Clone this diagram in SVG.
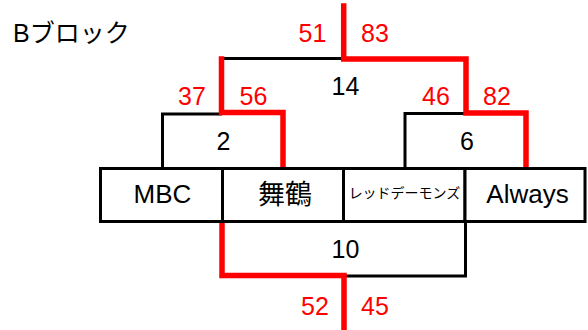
<svg xmlns="http://www.w3.org/2000/svg" width="588" height="330" viewBox="0 0 588 330">
<style>
  text { font-family: "Liberation Sans", "Noto Sans CJK JP", sans-serif; text-anchor: middle; fill: #000; }
  .title { font-size: 25px; text-anchor: start; }
  .num { font-size: 25px; }
  .score { font-size: 25px; fill: #ff0000; }
  .team { font-size: 26px; }
  .box { fill: #fff; stroke: #000; stroke-width: 3; }
  .blk { fill: none; stroke: #000; stroke-width: 3; }
  .red { fill: none; stroke: #ff0000; stroke-width: 5.5; stroke-linejoin: miter; stroke-linecap: square; }
</style>
<rect width="588" height="330" fill="#fff"/>
<text class="title" x="13" y="42">Bブロック</text>

<g id="connectors">
  <polyline class="blk" points="162.5,168 162.5,114 222,114"/>
  <polyline class="blk" points="222,58.5 343.5,58.5"/>
  <polyline class="blk" points="405,168 405,113.5 466,113.5"/>
  <polyline class="blk" points="465.5,222 465.5,276 344,276"/>
  <polyline class="red" points="283,168 283,112.5 221.5,112.5 221.5,59"/>
  <polyline class="red" points="343.7,6 343.7,59 466,59 466,113 526,113 526,168"/>
  <polyline class="red" points="222,222 222,275.5 344,275.5 344,330"/>
</g>

<g id="team-mbc"><rect class="box" x="100.5" y="168.5" width="122" height="53"/><text class="team" x="162.5" y="203">MBC</text></g>
<g id="team-maizuru"><rect class="box" x="222.5" y="168.5" width="121" height="53"/><text class="team" x="285" y="204" style="font-size:27px">舞鶴</text></g>
<g id="team-reddemons"><rect class="box" x="343.5" y="168.5" width="121.5" height="53"/><text class="team" x="404.5" y="198" style="font-size:14px">レッドデーモンズ</text></g>
<g id="team-always"><rect class="box" x="465" y="168.5" width="120" height="53"/><text class="team" x="527.5" y="203">Always</text></g>

<g id="match-2"><text class="num" x="223.5" y="150">2</text></g>
<g id="match-6"><text class="num" x="467" y="150">6</text></g>
<g id="match-14"><text class="num" x="345.5" y="95">14</text></g>
<g id="match-10"><text class="num" x="345.5" y="258">10</text></g>

<g id="scores">
  <text class="score" x="312.5" y="42">51</text>
  <text class="score" x="375" y="42">83</text>
  <text class="score" x="192" y="105">37</text>
  <text class="score" x="253.5" y="105">56</text>
  <text class="score" x="436" y="105">46</text>
  <text class="score" x="497" y="105">82</text>
  <text class="score" x="315" y="315">52</text>
  <text class="score" x="375" y="315">45</text>
</g>
</svg>
